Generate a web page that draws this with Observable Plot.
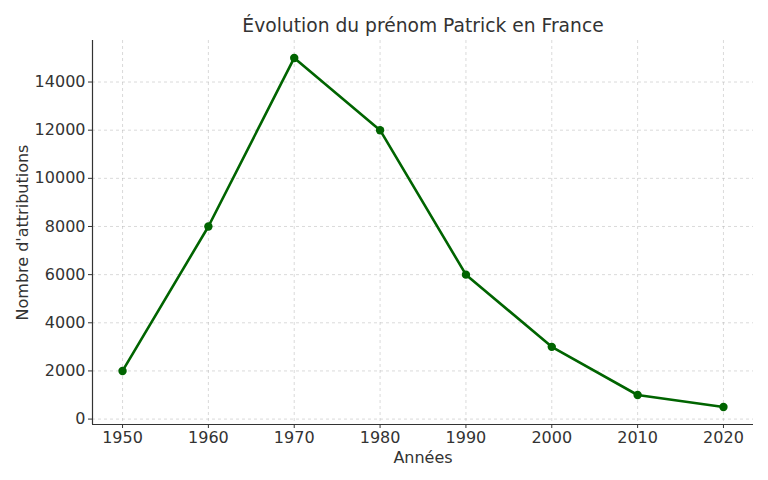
<!DOCTYPE html>
<html>
<head>
<meta charset="utf-8">
<script src="https://cdn.jsdelivr.net/npm/d3@7"></script>
<script src="https://cdn.jsdelivr.net/npm/@observablehq/plot@0.6"></script>
<style>
  html, body { margin: 0; padding: 0; background: #fff; }
  svg { font-family: "DejaVu Sans", sans-serif; }
</style>
</head>
<body>
<div id="chart"></div>
<script>
const years = [1950, 1960, 1970, 1980, 1990, 2000, 2010, 2020];
const counts = [2000, 8000, 15000, 12000, 6000, 3000, 1000, 500];
const xTicks = [1950, 1960, 1970, 1980, 1990, 2000, 2010, 2020];
const yTicks = [0, 2000, 4000, 6000, 8000, 10000, 12000, 14000];
const title = "Évolution du prénom Patrick en France";
const xLabel = "Années";
const yLabel = "Nombre d'attributions";

const data = years.map((y, i) => ({year: y, count: counts[i]}));
const xDom = [1946.5, 2023.5];
const yDom = [-225, 15725];

const chart = Plot.plot({
  width: 768,
  height: 480,
  marginLeft: 92,
  marginRight: 15,
  marginTop: 40,
  marginBottom: 56,
  style: {fontFamily: "DejaVu Sans, sans-serif", fontSize: "16px", color: "#333", background: "#fff"},
  x: {domain: xDom, label: null},
  y: {domain: yDom, label: null},
  marks: [
    Plot.gridX(xTicks, {stroke: "#b0b0b0", strokeOpacity: 0.6, strokeDasharray: "3,3", strokeWidth: 0.8}),
    Plot.gridY(yTicks, {stroke: "#b0b0b0", strokeOpacity: 0.6, strokeDasharray: "3,3", strokeWidth: 0.8}),
    Plot.axisX(xTicks, {tickFormat: d => String(d), tickSize: 4, tickPadding: 3, fontSize: 16, fill: "#333", stroke: "#333", label: null}),
    Plot.axisY(yTicks, {tickFormat: d => String(d), tickSize: 4, tickPadding: 3, fontSize: 16, fill: "#333", stroke: "#333", label: null}),
    Plot.ruleX([xDom[0]], {stroke: "#333", strokeWidth: 1.2}),
    Plot.ruleY([yDom[0]], {stroke: "#333", strokeWidth: 1.2}),
    Plot.line(data, {x: "year", y: "count", stroke: "#006400", strokeWidth: 2.6}),
    Plot.dot(data, {x: "year", y: "count", r: 4.2, fill: "#006400", stroke: "none"}),
    Plot.text([title], {frameAnchor: "top", lineAnchor: "middle", dy: -14, fontSize: 18.7, fill: "#333"}),
    Plot.text([xLabel], {frameAnchor: "bottom", lineAnchor: "middle", textAnchor: "middle", dy: 33, fontSize: 16, fill: "#333"}),
    Plot.text([yLabel], {frameAnchor: "left", textAnchor: "middle", lineAnchor: "middle", dx: -70, rotate: -90, fontSize: 16, fill: "#333"})
  ]
});
document.getElementById("chart").appendChild(chart);
</script>
</body>
</html>
